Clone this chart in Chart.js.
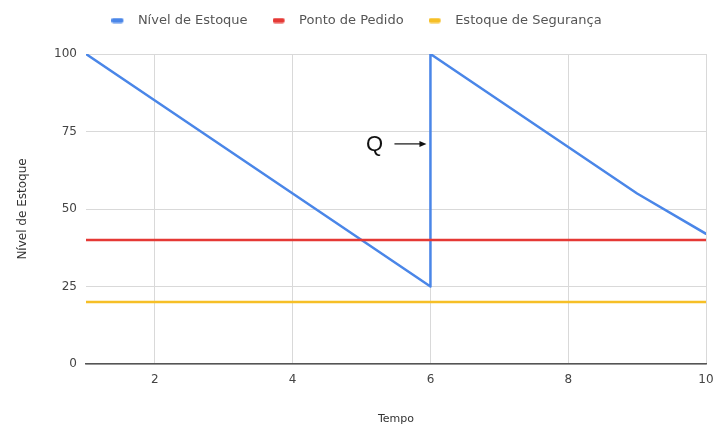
<!DOCTYPE html>
<html>
<head>
<meta charset="utf-8">
<script src="https://cdn.jsdelivr.net/npm/chart.js@4"></script>
<style>
  html, body { margin: 0; padding: 0; background: #fff; }
  #wrap { width: 713px; height: 427px; }
</style>
</head>
<body>
<div id="wrap"><canvas id="c" width="713" height="427"></canvas></div>
<script>
// Inventory level over time (sawtooth), reorder point and safety stock
const tempo = [1, 2, 3, 4, 5, 6, 6, 7, 8, 9, 10];
const nivelEstoque = [100, 85, 70, 55, 40, 25, 100, 85, 70, 55, 42];
const pontoPedidoTempo = [1, 10];
const pontoPedido = [40, 40];
const estoqueSegurancaTempo = [1, 10];
const estoqueSeguranca = [20, 20];
const xTicks = [2, 4, 6, 8, 10];
const yTicks = [0, 25, 50, 75, 100];
const nomesSeries = ['Nível de Estoque', 'Ponto de Pedido', 'Estoque de Segurança'];
const coresSeries = ['#4a86e8', '#e53935', '#f6bf26'];
const marcaQ = { texto: 'Q', tempo: 6, nivel: 71 };

const FONT = '"DejaVu Sans", Arial, sans-serif';
const toPoints = (xs, ys) => xs.map((x, i) => ({ x: x, y: ys[i] }));

// Legend swatch: short rounded bar at the left of the swatch cell
function swatch(color) {
  const c = document.createElement('canvas');
  c.width = 20; c.height = 6;
  const g = c.getContext('2d');
  g.fillStyle = color;
  g.beginPath();
  g.roundRect(0, 0.5, 12, 5, 2);
  g.fill();
  return c;
}
const swatches = coresSeries.map(swatch);

// Arrow with the "Q" label pointing at the replenishment jump
const qLabel = {
  id: 'qLabel',
  afterDatasetsDraw(chart) {
    const { ctx, scales: { x, y } } = chart;
    const px = x.getPixelForValue(marcaQ.tempo);
    const py = y.getPixelForValue(marcaQ.nivel);
    const tip = px - 4;
    const tail = tip - 32;
    ctx.save();
    ctx.strokeStyle = '#111';
    ctx.fillStyle = '#111';
    ctx.lineWidth = 1.2;
    ctx.beginPath();
    ctx.moveTo(tail, py);
    ctx.lineTo(tip - 5, py);
    ctx.stroke();
    ctx.beginPath();
    ctx.moveTo(tip, py);
    ctx.lineTo(tip - 7, py - 3);
    ctx.lineTo(tip - 7, py + 3);
    ctx.closePath();
    ctx.fill();
    ctx.font = '22px Arial, "Liberation Sans", sans-serif';
    ctx.textAlign = 'center';
    ctx.textBaseline = 'middle';
    ctx.fillText(marcaQ.texto, tail - 20, py + 1);
    ctx.restore();
  }
};

// Fixed legend band height so the plot starts at the right place
const legendBand = {
  id: 'legendBand',
  beforeLayout(chart) {
    const lg = chart.legend;
    if (lg && !lg._bandFixed) {
      const fit = lg.fit;
      lg.fit = function () { fit.call(this); this.height = 65; };
      lg._bandFixed = true;
    }
  }
};

new Chart(document.getElementById('c'), {
  type: 'line',
  data: {
    datasets: [
      {
        label: nomesSeries[0],
        data: toPoints(tempo, nivelEstoque),
        borderColor: coresSeries[0],
        backgroundColor: coresSeries[0],
        borderWidth: 2.5,
        order: 3
      },
      {
        label: nomesSeries[1],
        data: toPoints(pontoPedidoTempo, pontoPedido),
        borderColor: coresSeries[1],
        backgroundColor: coresSeries[1],
        borderWidth: 2.5,
        order: 2
      },
      {
        label: nomesSeries[2],
        data: toPoints(estoqueSegurancaTempo, estoqueSeguranca),
        borderColor: coresSeries[2],
        backgroundColor: coresSeries[2],
        borderWidth: 2.5,
        order: 1
      }
    ]
  },
  options: {
    responsive: false,
    animation: false,
    devicePixelRatio: 1,
    layout: { padding: { top: -11, right: 0, bottom: 0, left: 0 } },
    elements: {
      point: { radius: 0, hoverRadius: 0 },
      line: { tension: 0, borderCapStyle: 'round', borderJoinStyle: 'round' }
    },
    plugins: {
      tooltip: { enabled: false },
      legend: {
        position: 'top',
        labels: {
          font: { family: FONT, size: 13 },
          color: '#555',
          usePointStyle: true,
          pointStyleWidth: 20,
          boxHeight: 6,
          padding: 25,
          sort: (a, b) => a.datasetIndex - b.datasetIndex,
          generateLabels(chart) {
            return Chart.defaults.plugins.legend.labels.generateLabels(chart)
              .map(l => Object.assign(l, { lineWidth: 0, pointStyle: swatches[l.datasetIndex] }));
          }
        }
      }
    },
    scales: {
      x: {
        type: 'linear',
        min: 1,
        max: 10,
        afterBuildTicks(axis) { axis.ticks = xTicks.map(v => ({ value: v })); },
        afterFit(axis) { axis.height = 63; axis.paddingRight = 7; },
        grid: { color: '#d9d9d9', lineWidth: 1, drawTicks: false },
        border: { display: true, color: '#555', width: 1.5 },
        ticks: { padding: 9, color: '#444', font: { family: FONT, size: 12 } },
        title: {
          display: true,
          text: 'Tempo',
          color: '#333',
          font: { family: FONT, size: 11 },
          padding: { top: 0, bottom: 1 }
        }
      },
      y: {
        min: 0,
        max: 100,
        afterBuildTicks(axis) { axis.ticks = yTicks.map(v => ({ value: v })); },
        afterFit(axis) { axis.width = 86; },
        grid: { color: '#d9d9d9', lineWidth: 1, drawTicks: false },
        border: { display: false },
        ticks: { padding: 9, color: '#444', font: { family: FONT, size: 12 } },
        title: {
          display: true,
          text: 'Nível de Estoque',
          color: '#333',
          font: { family: FONT, size: 12 },
          padding: { top: 16, bottom: 0 }
        }
      }
    }
  },
  plugins: [legendBand, qLabel]
});
</script>
</body>
</html>
